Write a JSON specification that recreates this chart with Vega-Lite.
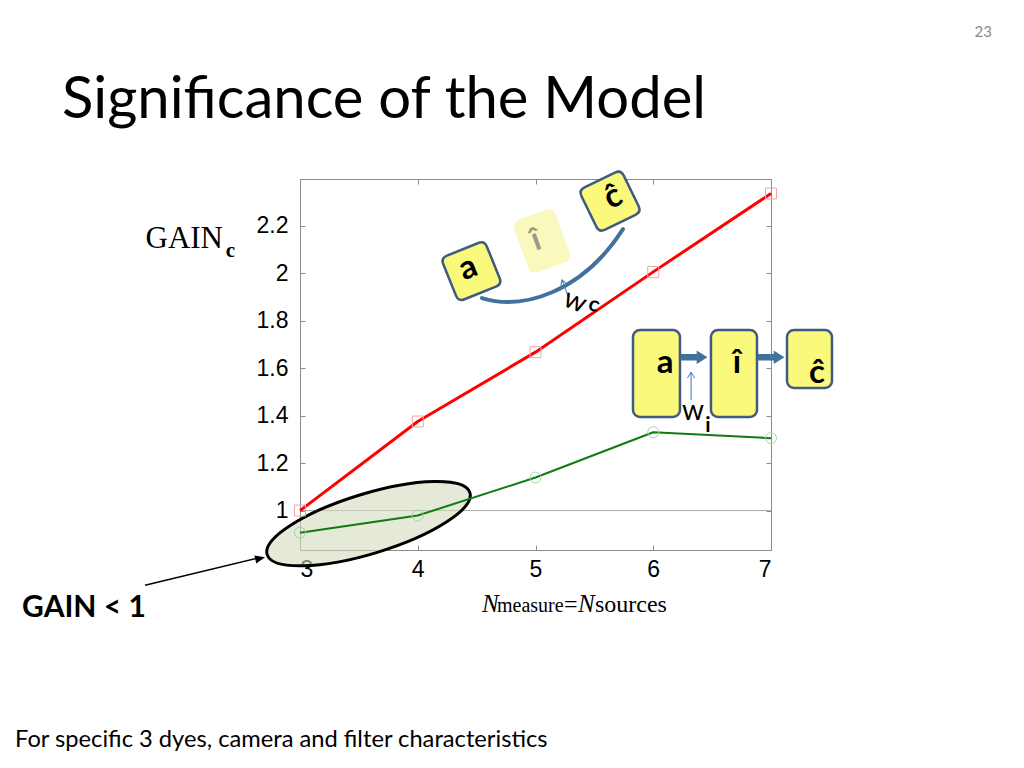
{
  "$schema": "https://vega.github.io/schema/vega-lite/v6.json",
  "width": 471,
  "height": 371,
  "autosize": {"type": "none"},
  "padding": {"left": 300, "top": 179, "right": 253, "bottom": 218},
  "background": "white",
  "config": {"view": {"stroke": null}, "axis": {"grid": false}},
  "datasets": {
    "series": [
      {"n": 3, "gain": 1.0, "series": "wc"},
      {"n": 4, "gain": 1.375, "series": "wc"},
      {"n": 5, "gain": 1.667, "series": "wc"},
      {"n": 6, "gain": 2.005, "series": "wc"},
      {"n": 7, "gain": 2.335, "series": "wc"},
      {"n": 3, "gain": 0.907, "series": "wi"},
      {"n": 4, "gain": 0.979, "series": "wi"},
      {"n": 5, "gain": 1.139, "series": "wi"},
      {"n": 6, "gain": 1.33, "series": "wi"},
      {"n": 7, "gain": 1.305, "series": "wi"}
    ]
  },
  "data": {"values": [{}]},
  "resolve": {"axis": {"x": "independent", "y": "independent"}},
  "layer": [
    {
      "mark": {"type": "rule", "color": "#a8a8a8", "strokeWidth": 1},
      "encoding": {"y": {"datum": 1, "type": "quantitative", "axis": null}}
    },
    {
      "mark": {"type": "point", "shape": "M -1 0 A 1 0.283 0 1 1 1 0 A 1 0.283 0 1 1 -1 0 Z", "size": 44944, "angle": -17, "filled": true, "fill": "#d3dabd", "fillOpacity": 0.6, "stroke": "#000000", "strokeWidth": 3, "opacity": 1},
      "encoding": {"x": {"datum": 3.582, "type": "quantitative", "axis": null}, "y": {"datum": 0.945, "type": "quantitative", "axis": null}}
    },
    {
      "data": {"name": "series"},
      "mark": {"type": "line", "strokeJoin": "round"},
      "encoding": {
        "x": {"field": "n", "type": "quantitative", "scale": {"domain": [3, 7], "nice": false, "zero": false},
          "axis": {"values": [3, 4, 5, 6, 7], "format": "d", "labelFont": "Liberation Sans", "labelFontSize": 23, "labelColor": "#000000", "tickSize": -5, "tickColor": "#8c8c8c", "domainColor": "#8c8c8c", "labelPadding": 13, "title": null}},
        "y": {"field": "gain", "type": "quantitative", "scale": {"domain": [0.834, 2.396], "nice": false, "zero": false},
          "axis": {"values": [1, 1.2, 1.4, 1.6, 1.8, 2, 2.2], "format": "~g", "labelFont": "Liberation Sans", "labelFontSize": 23, "labelColor": "#000000", "tickSize": -5, "tickColor": "#8c8c8c", "domainColor": "#8c8c8c", "labelPadding": 17,
            "title": "GAIN", "titleFont": "Liberation Serif", "titleFontSize": 31, "titleFontWeight": "normal", "titleColor": "#000000", "titleAngle": 0, "titleAlign": "left", "titleBaseline": "alphabetic", "titleX": -155, "titleY": 68}},
        "color": {"field": "series", "type": "nominal", "scale": {"domain": ["wc", "wi"], "range": ["#ff0000", "#117a11"]}, "legend": null},
        "strokeWidth": {"field": "series", "type": "nominal", "scale": {"domain": ["wc", "wi"], "range": [3, 2]}, "legend": null}
      }
    },
    {
      "data": {"name": "series"},
      "mark": {"type": "point", "size": 120, "strokeWidth": 1, "filled": false, "opacity": 1},
      "encoding": {
        "x": {"field": "n", "type": "quantitative", "axis": {"orient": "top", "labels": false, "title": null, "values": [3, 4, 5, 6, 7], "tickSize": -5, "tickColor": "#8c8c8c", "domainColor": "#8c8c8c"}},
        "y": {"field": "gain", "type": "quantitative", "axis": {"orient": "right", "labels": false, "title": null, "values": [1, 1.2, 1.4, 1.6, 1.8, 2, 2.2], "tickSize": -5, "tickColor": "#8c8c8c", "domainColor": "#8c8c8c"}},
        "shape": {"field": "series", "type": "nominal", "scale": {"domain": ["wc", "wi"], "range": ["square", "circle"]}, "legend": null},
        "stroke": {"field": "series", "type": "nominal", "scale": {"domain": ["wc", "wi"], "range": ["#f2a3a3", "#a3d6a3"]}, "legend": null}
      }
    },
    {
      "mark": {"type": "text", "text": "Significance of the Model", "font": "Lato", "fontSize": 58, "align": "left", "baseline": "alphabetic", "color": "#000000"},
      "encoding": {"x": {"datum": 0.979, "type": "quantitative", "axis": null}, "y": {"datum": 2.653, "type": "quantitative", "axis": null}}
    },
    {
      "mark": {"type": "text", "text": "c", "font": "Liberation Serif", "fontSize": 21, "fontWeight": "bold", "align": "left", "baseline": "alphabetic", "color": "#000000"},
      "encoding": {"x": {"datum": 2.37, "type": "quantitative", "axis": null}, "y": {"datum": 2.067, "type": "quantitative", "axis": null}}
    },
    {
      "mark": {"type": "text", "text": "N", "font": "Liberation Serif", "fontSize": 25, "fontStyle": "italic", "align": "left", "baseline": "alphabetic", "color": "#000000"},
      "encoding": {"x": {"datum": 4.546, "type": "quantitative", "axis": null}, "y": {"datum": 0.5726, "type": "quantitative", "axis": null}}
    },
    {
      "mark": {"type": "text", "text": "measure", "font": "Liberation Serif", "fontSize": 20, "align": "left", "baseline": "alphabetic", "color": "#000000"},
      "encoding": {"x": {"datum": 4.673, "type": "quantitative", "axis": null}, "y": {"datum": 0.5726, "type": "quantitative", "axis": null}}
    },
    {
      "mark": {"type": "text", "text": "=", "font": "Liberation Serif", "fontSize": 24, "align": "left", "baseline": "alphabetic", "color": "#000000"},
      "encoding": {"x": {"datum": 5.242, "type": "quantitative", "axis": null}, "y": {"datum": 0.5726, "type": "quantitative", "axis": null}}
    },
    {
      "mark": {"type": "text", "text": "N", "font": "Liberation Serif", "fontSize": 25, "fontStyle": "italic", "align": "left", "baseline": "alphabetic", "color": "#000000"},
      "encoding": {"x": {"datum": 5.361, "type": "quantitative", "axis": null}, "y": {"datum": 0.5726, "type": "quantitative", "axis": null}}
    },
    {
      "mark": {"type": "text", "text": "sources", "font": "Liberation Serif", "fontSize": 24, "align": "left", "baseline": "alphabetic", "color": "#000000"},
      "encoding": {"x": {"datum": 5.505, "type": "quantitative", "axis": null}, "y": {"datum": 0.5726, "type": "quantitative", "axis": null}}
    },
    {
      "mark": {"type": "rule", "color": "#000000", "strokeWidth": 1.5},
      "encoding": {"x": {"datum": 1.684, "type": "quantitative", "axis": null}, "y": {"datum": 0.686, "type": "quantitative", "axis": null}, "x2": {"datum": 2.643}, "y2": {"datum": 0.8}}
    },
    {
      "mark": {"type": "point", "shape": "M 0 0 L -1 -0.4 L -1 0.4 Z", "size": 400, "angle": -13.7, "filled": true, "fill": "#000000", "stroke": null, "opacity": 1},
      "encoding": {"x": {"datum": 2.703, "type": "quantitative", "axis": null}, "y": {"datum": 0.804, "type": "quantitative", "axis": null}}
    },
    {
      "mark": {"type": "text", "text": "GAIN < 1", "font": "Lato", "fontSize": 30, "fontWeight": "bold", "align": "left", "baseline": "alphabetic", "color": "#000000"},
      "encoding": {"x": {"datum": 0.64, "type": "quantitative", "axis": null}, "y": {"datum": 0.552, "type": "quantitative", "axis": null}}
    },
    {
      "mark": {"type": "text", "text": "For specific 3 dyes, camera and filter characteristics", "font": "Lato", "fontSize": 23.7, "align": "left", "baseline": "alphabetic", "color": "#000000"},
      "encoding": {"x": {"datum": 0.58, "type": "quantitative", "axis": null}, "y": {"datum": 0.004, "type": "quantitative", "axis": null}}
    },
    {
      "mark": {"type": "text", "text": "23", "font": "Lato", "fontSize": 15, "align": "right", "baseline": "alphabetic", "color": "#8b8b8b"},
      "encoding": {"x": {"datum": 8.877, "type": "quantitative", "axis": null}, "y": {"datum": 2.994, "type": "quantitative", "axis": null}}
    },
    {
      "mark": {"type": "rect", "cornerRadius": 7, "fill": "#fbf97c", "stroke": "#3f5b82", "strokeWidth": 2.5},
      "encoding": {"x": {"datum": 5.828, "type": "quantitative", "axis": null}, "x2": {"datum": 6.227}, "y": {"datum": 1.76, "type": "quantitative", "axis": null}, "y2": {"datum": 1.394}}
    },
    {
      "mark": {"type": "rect", "cornerRadius": 7, "fill": "#fbf97c", "stroke": "#3f5b82", "strokeWidth": 2.5},
      "encoding": {"x": {"datum": 6.49, "type": "quantitative", "axis": null}, "x2": {"datum": 6.881}, "y": {"datum": 1.76, "type": "quantitative", "axis": null}, "y2": {"datum": 1.394}}
    },
    {
      "mark": {"type": "rect", "cornerRadius": 7, "fill": "#fbf97c", "stroke": "#3f5b82", "strokeWidth": 2.5},
      "encoding": {"x": {"datum": 7.136, "type": "quantitative", "axis": null}, "x2": {"datum": 7.518}, "y": {"datum": 1.76, "type": "quantitative", "axis": null}, "y2": {"datum": 1.516}}
    },
    {
      "mark": {"type": "point", "shape": "M -1 -0.24 L 0.2 -0.24 L 0.2 -0.5 L 1 0 L 0.2 0.5 L 0.2 0.24 L -1 0.24 Z", "size": 729, "filled": true, "fill": "#41719c", "stroke": null, "opacity": 1},
      "encoding": {"x": {"datum": 6.346, "type": "quantitative", "axis": null}, "y": {"datum": 1.646, "type": "quantitative", "axis": null}}
    },
    {
      "mark": {"type": "point", "shape": "M -1 -0.24 L 0.2 -0.24 L 0.2 -0.5 L 1 0 L 0.2 0.5 L 0.2 0.24 L -1 0.24 Z", "size": 729, "filled": true, "fill": "#41719c", "stroke": null, "opacity": 1},
      "encoding": {"x": {"datum": 7.0, "type": "quantitative", "axis": null}, "y": {"datum": 1.646, "type": "quantitative", "axis": null}}
    },
    {
      "mark": {"type": "rule", "color": "#4472c4", "strokeWidth": 1},
      "encoding": {"x": {"datum": 6.321, "type": "quantitative", "axis": null}, "y": {"datum": 1.465, "type": "quantitative", "axis": null}, "y2": {"datum": 1.583}}
    },
    {
      "mark": {"type": "point", "shape": "M -0.6 1 L 0 0 L 0.6 1", "size": 144, "filled": false, "stroke": "#4472c4", "strokeWidth": 1, "opacity": 1},
      "encoding": {"x": {"datum": 6.321, "type": "quantitative", "axis": null}, "y": {"datum": 1.583, "type": "quantitative", "axis": null}}
    },
    {
      "mark": {"type": "text", "text": "a", "font": "Lato", "fontSize": 33, "fontWeight": "bold", "align": "center", "baseline": "alphabetic", "color": "#000000"},
      "encoding": {"x": {"datum": 6.1, "type": "quantitative", "axis": null}, "y": {"datum": 1.579, "type": "quantitative", "axis": null}}
    },
    {
      "mark": {"type": "text", "text": "î", "font": "Lato", "fontSize": 33, "fontWeight": "bold", "align": "center", "baseline": "alphabetic", "color": "#000000"},
      "encoding": {"x": {"datum": 6.711, "type": "quantitative", "axis": null}, "y": {"datum": 1.579, "type": "quantitative", "axis": null}}
    },
    {
      "mark": {"type": "text", "text": "ĉ", "font": "Lato", "fontSize": 33, "fontWeight": "bold", "align": "center", "baseline": "alphabetic", "color": "#000000"},
      "encoding": {"x": {"datum": 7.391, "type": "quantitative", "axis": null}, "y": {"datum": 1.537, "type": "quantitative", "axis": null}}
    },
    {
      "mark": {"type": "text", "text": "w", "font": "Lato", "fontSize": 28, "align": "center", "baseline": "alphabetic", "color": "#000000"},
      "encoding": {"x": {"datum": 6.338, "type": "quantitative", "axis": null}, "y": {"datum": 1.381, "type": "quantitative", "axis": null}}
    },
    {
      "mark": {"type": "text", "text": "i", "font": "Lato", "fontSize": 21, "fontWeight": "bold", "align": "center", "baseline": "alphabetic", "color": "#000000"},
      "encoding": {"x": {"datum": 6.465, "type": "quantitative", "axis": null}, "y": {"datum": 1.331, "type": "quantitative", "axis": null}}
    },
    {
      "mark": {"type": "point", "shape": "M -0.786 -0.72 Q -0.786 -1 -0.5 -1 L 0.5 -1 Q 0.786 -1 0.786 -0.72 L 0.786 0.72 Q 0.786 1 0.5 1 L -0.5 1 Q -0.786 1 -0.786 0.72 Z", "size": 3136, "angle": -20, "filled": true, "fill": "#f9f8bd", "stroke": null, "opacity": 1},
      "encoding": {"x": {"datum": 5.055, "type": "quantitative", "axis": null}, "y": {"datum": 2.135, "type": "quantitative", "axis": null}}
    },
    {
      "mark": {"type": "text", "text": "î", "font": "Lato", "fontSize": 32, "fontWeight": "bold", "align": "center", "baseline": "middle", "angle": -20, "color": "#9a9a86"},
      "encoding": {"x": {"datum": 5.004, "type": "quantitative", "axis": null}, "y": {"datum": 2.139, "type": "quantitative", "axis": null}}
    },
    {
      "mark": {"type": "point", "shape": "M -1 -0.72 Q -1 -1 -0.72 -1 L 0.72 -1 Q 1 -1 1 -0.72 L 1 0.72 Q 1 1 0.72 1 L -0.72 1 Q -1 1 -1 0.72 Z", "size": 2209, "angle": -22, "filled": true, "fill": "#fbf97c", "stroke": "#3f5b82", "strokeWidth": 2.5, "opacity": 1},
      "encoding": {"x": {"datum": 4.456, "type": "quantitative", "axis": null}, "y": {"datum": 2.008, "type": "quantitative", "axis": null}}
    },
    {
      "mark": {"type": "point", "shape": "M -1 -0.72 Q -1 -1 -0.72 -1 L 0.72 -1 Q 1 -1 1 -0.72 L 1 0.72 Q 1 1 0.72 1 L -0.72 1 Q -1 1 -1 0.72 Z", "size": 2209, "angle": -26, "filled": true, "fill": "#fbf97c", "stroke": "#3f5b82", "strokeWidth": 2.5, "opacity": 1},
      "encoding": {"x": {"datum": 5.633, "type": "quantitative", "axis": null}, "y": {"datum": 2.303, "type": "quantitative", "axis": null}}
    },
    {
      "mark": {"type": "point", "shape": "M -1.4 0.7 C -0.6 0.95 0.6 0.6 1.42 -0.68", "size": 10000, "filled": false, "stroke": "#41719c", "strokeWidth": 4, "strokeCap": "round", "opacity": 1},
      "encoding": {"x": {"datum": 5.14, "type": "quantitative", "axis": null}, "y": {"datum": 2.042, "type": "quantitative", "axis": null}}
    },
    {
      "mark": {"type": "text", "text": "a", "font": "Lato", "fontSize": 33, "fontWeight": "bold", "align": "center", "baseline": "middle", "angle": -22, "color": "#000000"},
      "encoding": {"x": {"datum": 4.427, "type": "quantitative", "axis": null}, "y": {"datum": 2.021, "type": "quantitative", "axis": null}}
    },
    {
      "mark": {"type": "text", "text": "ĉ", "font": "Lato", "fontSize": 33, "fontWeight": "bold", "align": "center", "baseline": "middle", "angle": -26, "color": "#000000"},
      "encoding": {"x": {"datum": 5.658, "type": "quantitative", "axis": null}, "y": {"datum": 2.32, "type": "quantitative", "axis": null}}
    },
    {
      "mark": {"type": "rule", "color": "#4472c4", "strokeWidth": 1},
      "encoding": {"x": {"datum": 5.276, "type": "quantitative", "axis": null}, "y": {"datum": 1.903, "type": "quantitative", "axis": null}, "x2": {"datum": 5.225}, "y2": {"datum": 1.971}}
    },
    {
      "mark": {"type": "point", "shape": "M -0.6 1 L 0 0 L 0.6 1", "size": 100, "angle": -20, "filled": false, "stroke": "#4472c4", "strokeWidth": 1, "opacity": 1},
      "encoding": {"x": {"datum": 5.225, "type": "quantitative", "axis": null}, "y": {"datum": 1.971, "type": "quantitative", "axis": null}}
    },
    {
      "mark": {"type": "text", "text": "w", "font": "Lato", "fontSize": 28, "align": "center", "baseline": "middle", "angle": 22, "color": "#000000"},
      "encoding": {"x": {"datum": 5.335, "type": "quantitative", "axis": null}, "y": {"datum": 1.878, "type": "quantitative", "axis": null}}
    },
    {
      "mark": {"type": "text", "text": "c", "font": "Lato", "fontSize": 21, "fontWeight": "bold", "align": "center", "baseline": "middle", "angle": 22, "color": "#000000"},
      "encoding": {"x": {"datum": 5.497, "type": "quantitative", "axis": null}, "y": {"datum": 1.865, "type": "quantitative", "axis": null}}
    }
  ]
}
